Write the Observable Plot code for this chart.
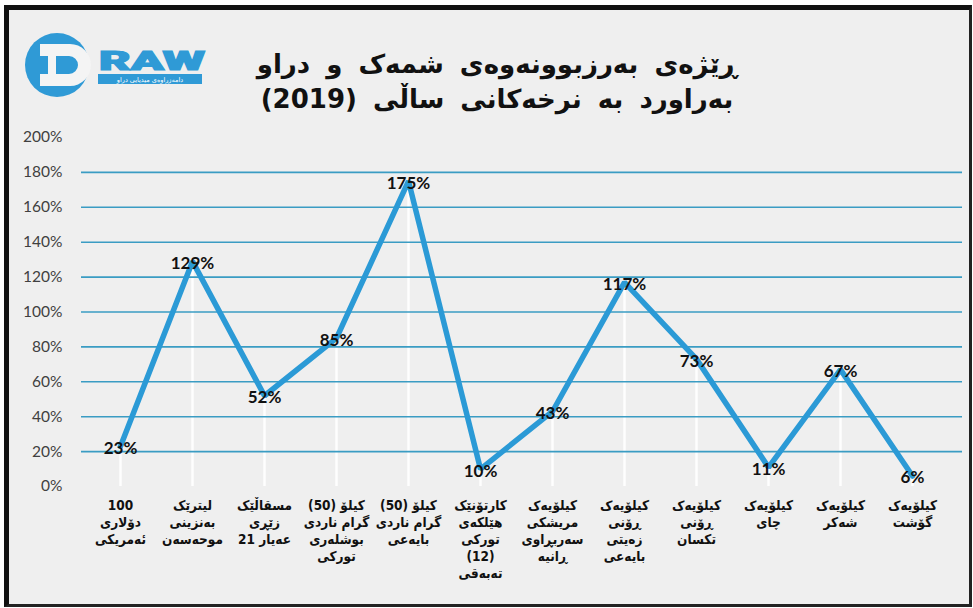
<!DOCTYPE html>
<html>
<head>
<meta charset="utf-8">
<script src="https://cdn.jsdelivr.net/npm/d3@7"></script>
<script src="https://cdn.jsdelivr.net/npm/@observablehq/plot@0.6"></script>
<style>
  html, body { margin: 0; padding: 0; background: #ffffff; }
  body { width: 973px; height: 608px; position: relative; overflow: hidden; }
  #frame { position: absolute; left: 4px; top: 5px; width: 968px; height: 602px; box-sizing: border-box;
           border-top: 5px solid #111; border-left: 5px solid #111; border-right: 3px solid #222; border-bottom: 3px solid #222;
           background: #efefef; }
  #title { position: absolute; left: 180px; width: 634px; top: 47px; text-align: center; direction: rtl;
           font-family: "DejaVu Sans", sans-serif; font-weight: bold; font-size: 26px; line-height: 35px;
           color: #111; word-spacing: 7px; }
  #logo { position: absolute; left: 22px; top: 28px; }
  #chart { position: absolute; left: 0; top: 120px; }
</style>
</head>
<body>
<div id="frame"></div>
<svg id="logo" width="200" height="76" viewBox="0 0 200 76">
  <circle cx="35" cy="37" r="32" fill="#2f9ad6"/>
  <path d="M18 16 H48 A21 21 0 0 1 48 58 H18 V46 H26 V28 H18 Z M34 28 V46 H47 A9 9 0 0 0 47 28 Z" fill="#f4f4f4"/>
  <text x="77" y="42" font-family="Roboto, 'DejaVu Sans', sans-serif" font-weight="900" font-size="25" fill="#2f9ad6" stroke="#2f9ad6" stroke-width="1.2" textLength="106" lengthAdjust="spacingAndGlyphs">RAW</text>
  <rect x="76" y="46" width="104" height="10" fill="#2f9ad6"/>
  <text x="128" y="54" text-anchor="middle" direction="rtl" font-family="'DejaVu Sans', sans-serif" font-size="6.5" fill="#ffffff">دامەزراوەی میدیایی دراو</text>
</svg>
<div id="title">ڕێژەی بەرزبوونەوەی شمەک و دراو<br>بەراورد بە نرخەکانی ساڵی (2019)</div>
<div id="chart"></div>
<script>
// ---- data ----
const categories = [
  "100\nدۆلاری\nئەمریکی",
  "لیترێک\nبەنزینی\nموحەسەن",
  "مسقاڵێک\nزێڕی\nعەیار 21",
  "کیلۆ (50)\nگرام ناردی\nبوشلەری\nتورکی",
  "کیلۆ (50)\nگرام ناردی\nبایەعی",
  "کارتۆنێک\nهێلکەی\nتورکی\n(12)\nتەبەقی",
  "کیلۆیەک\nمریشکی\nسەربڕاوی\nڕانیە",
  "کیلۆیەک\nڕۆنی\nزەیتی\nبایەعی",
  "کیلۆیەک\nڕۆنی\nتکسان",
  "کیلۆیەک\nچای",
  "کیلۆیەک\nشەکر",
  "کیلۆیەک\nگۆشت"
];
const values = [23, 129, 52, 85, 175, 10, 43, 117, 73, 11, 67, 6];
const yTicks = [0, 20, 40, 60, 80, 100, 120, 140, 160, 180, 200];
const gridLines = [20, 40, 60, 80, 100, 120, 140, 160, 180];

const data = categories.map((c, i) => ({cat: c, value: values[i]}));

const plot = Plot.plot({
  width: 973,
  height: 486,
  marginTop: 17,
  marginBottom: 120,
  marginLeft: 81,
  marginRight: 11,
  x: {type: "point", domain: categories, range: [118, 913], padding: 0, label: null},
  y: {domain: [0, 200], label: null},
  style: {background: "transparent", overflow: "visible", color: "#404040"},
  marks: [
    Plot.ruleX(data, {x: "cat", y1: 0, y2: "value", stroke: "#ffffff", strokeWidth: 2.5, strokeOpacity: 0.9}),
    Plot.ruleY(gridLines, {stroke: "#3a9cc3", strokeWidth: 1.6}),
    Plot.line(data, {x: "cat", y: "value", stroke: "#2b9ad6", strokeWidth: 5.5, strokeLinejoin: "miter"}),
    Plot.text(data, {x: "cat", y: "value", text: d => d.value + "%", fontSize: 17, fontWeight: "bold",
                     fontFamily: "Lato, 'Open Sans', sans-serif", fill: "#111", dy: 2}),
    Plot.axisY({ticks: yTicks, tickFormat: d => d + "%", tickSize: 0, tickPadding: 19, fontSize: 15.5, label: null,
                fontFamily: "Lato, 'Open Sans', sans-serif", fill: "#404040"}),
    Plot.axisX({ticks: categories, tickFormat: d => d, tickSize: 0, tickPadding: 12, fontSize: 13.5, label: null,
                fontWeight: "bold", lineHeight: 1.25, fontFamily: "'DejaVu Sans Condensed', 'DejaVu Sans', sans-serif", fill: "#111"})
  ]
});
document.getElementById("chart").appendChild(plot);
d3.select(plot).selectAll('g[aria-label="x-axis tick label"] text').attr("direction", "rtl");
</script>
</body>
</html>
